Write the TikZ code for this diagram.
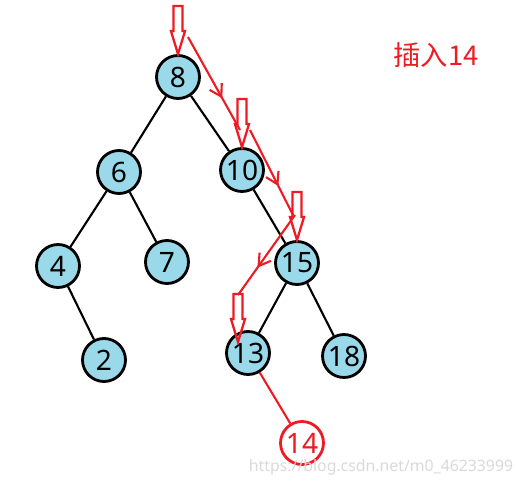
\documentclass[tikz,border=0pt]{standalone}
\usepackage{fontspec}
\setmainfont{Noto Sans}
\newfontfamily\cjk{Noto Sans CJK SC}
\usetikzlibrary{arrows.meta, decorations.markings}
\definecolor{bstblue}{HTML}{99D9EA}
\definecolor{bstred}{HTML}{ED1C24}
\tikzset{
  x=0.02cm, y=-0.02cm,
  bstnode/.style={circle, draw=black, line width=1.6pt, fill=bstblue, minimum size=0.86cm,
                  inner sep=0pt, font=\fontsize{16}{16}\selectfont},
  newnode/.style={bstnode, draw=bstred, fill=white, text=bstred},
  link/.style={draw=black, line width=1.2pt},
  newlink/.style={link, draw=bstred},
  searchpath/.style={draw=bstred, line width=1.2pt, postaction={decorate},
                     decoration={markings, mark=at position 0.66 with {\arrow{Straight Barb[length=2.3mm, width=2.8mm]}}}},
  lbl/.style={font=\cjk\fontsize{15.5}{15.5}\selectfont, text=bstred},
  insarrow/.pic={\draw[bstred, line width=1.3pt, line join=miter]
      (0,0) -- (-7,-23) -- (-4.5,-23) -- (-4.5,-48) -- (4.5,-48) -- (4.5,-23) -- (7,-23) -- cycle;},
}
\begin{document}
\begin{tikzpicture}
  \useasboundingbox (0,0) rectangle (516,486);
  % tree
  \node[bstnode] (n8) at (178,77) {8};
  \node[bstnode] (n6) at (119,172) {6};
  \node[bstnode] (n10) at (242,170) {10};
  \node[bstnode] (n4) at (58,266) {4};
  \node[bstnode] (n7) at (167,262) {7};
  \node[bstnode] (n2) at (104,360) {2};
  \node[bstnode] (n15) at (297,263) {15};
  \node[bstnode] (n13) at (248,353) {13};
  \node[bstnode] (n18) at (344,356) {18};
  \node[newnode] (n14) at (302,443) {14};
  \draw[link] (n8) -- (n6);
  \draw[link] (n8) -- (n10);
  \draw[link] (n6) -- (n4);
  \draw[link] (n6) -- (n7);
  \draw[link] (n4) -- (n2);
  \draw[link] (n10) -- (n15);
  \draw[link] (n15) -- (n13);
  \draw[link] (n15) -- (n18);
  \draw[newlink] (n13) -- (n14);
  % search path
  \pic at (n8.north) {insarrow};
  \pic at (n10.north) {insarrow};
  \pic at (n15.north) {insarrow};
  \pic at (238,342) {insarrow};
  \coordinate (a1s) at (188,37);
  \coordinate (a1e) at (240,130);
  \coordinate (a2s) at (250,130);
  \coordinate (a2e) at (293,215);
  \coordinate (a3s) at (295,215);
  \coordinate (a3e) at (238,295);
  \draw[searchpath] (a1s) -- (a1e);
  \draw[searchpath] (a2s) -- (a2e);
  \draw[searchpath] (a3s) -- (a3e);
  \node[lbl] (title) at (436,55) {插入14};
  \node[font=\fontsize{9}{9}\selectfont, text=black!15] (mark) at (381,467) {https://blog.csdn.net/m0\_46233999};
\end{tikzpicture}
\end{document}
